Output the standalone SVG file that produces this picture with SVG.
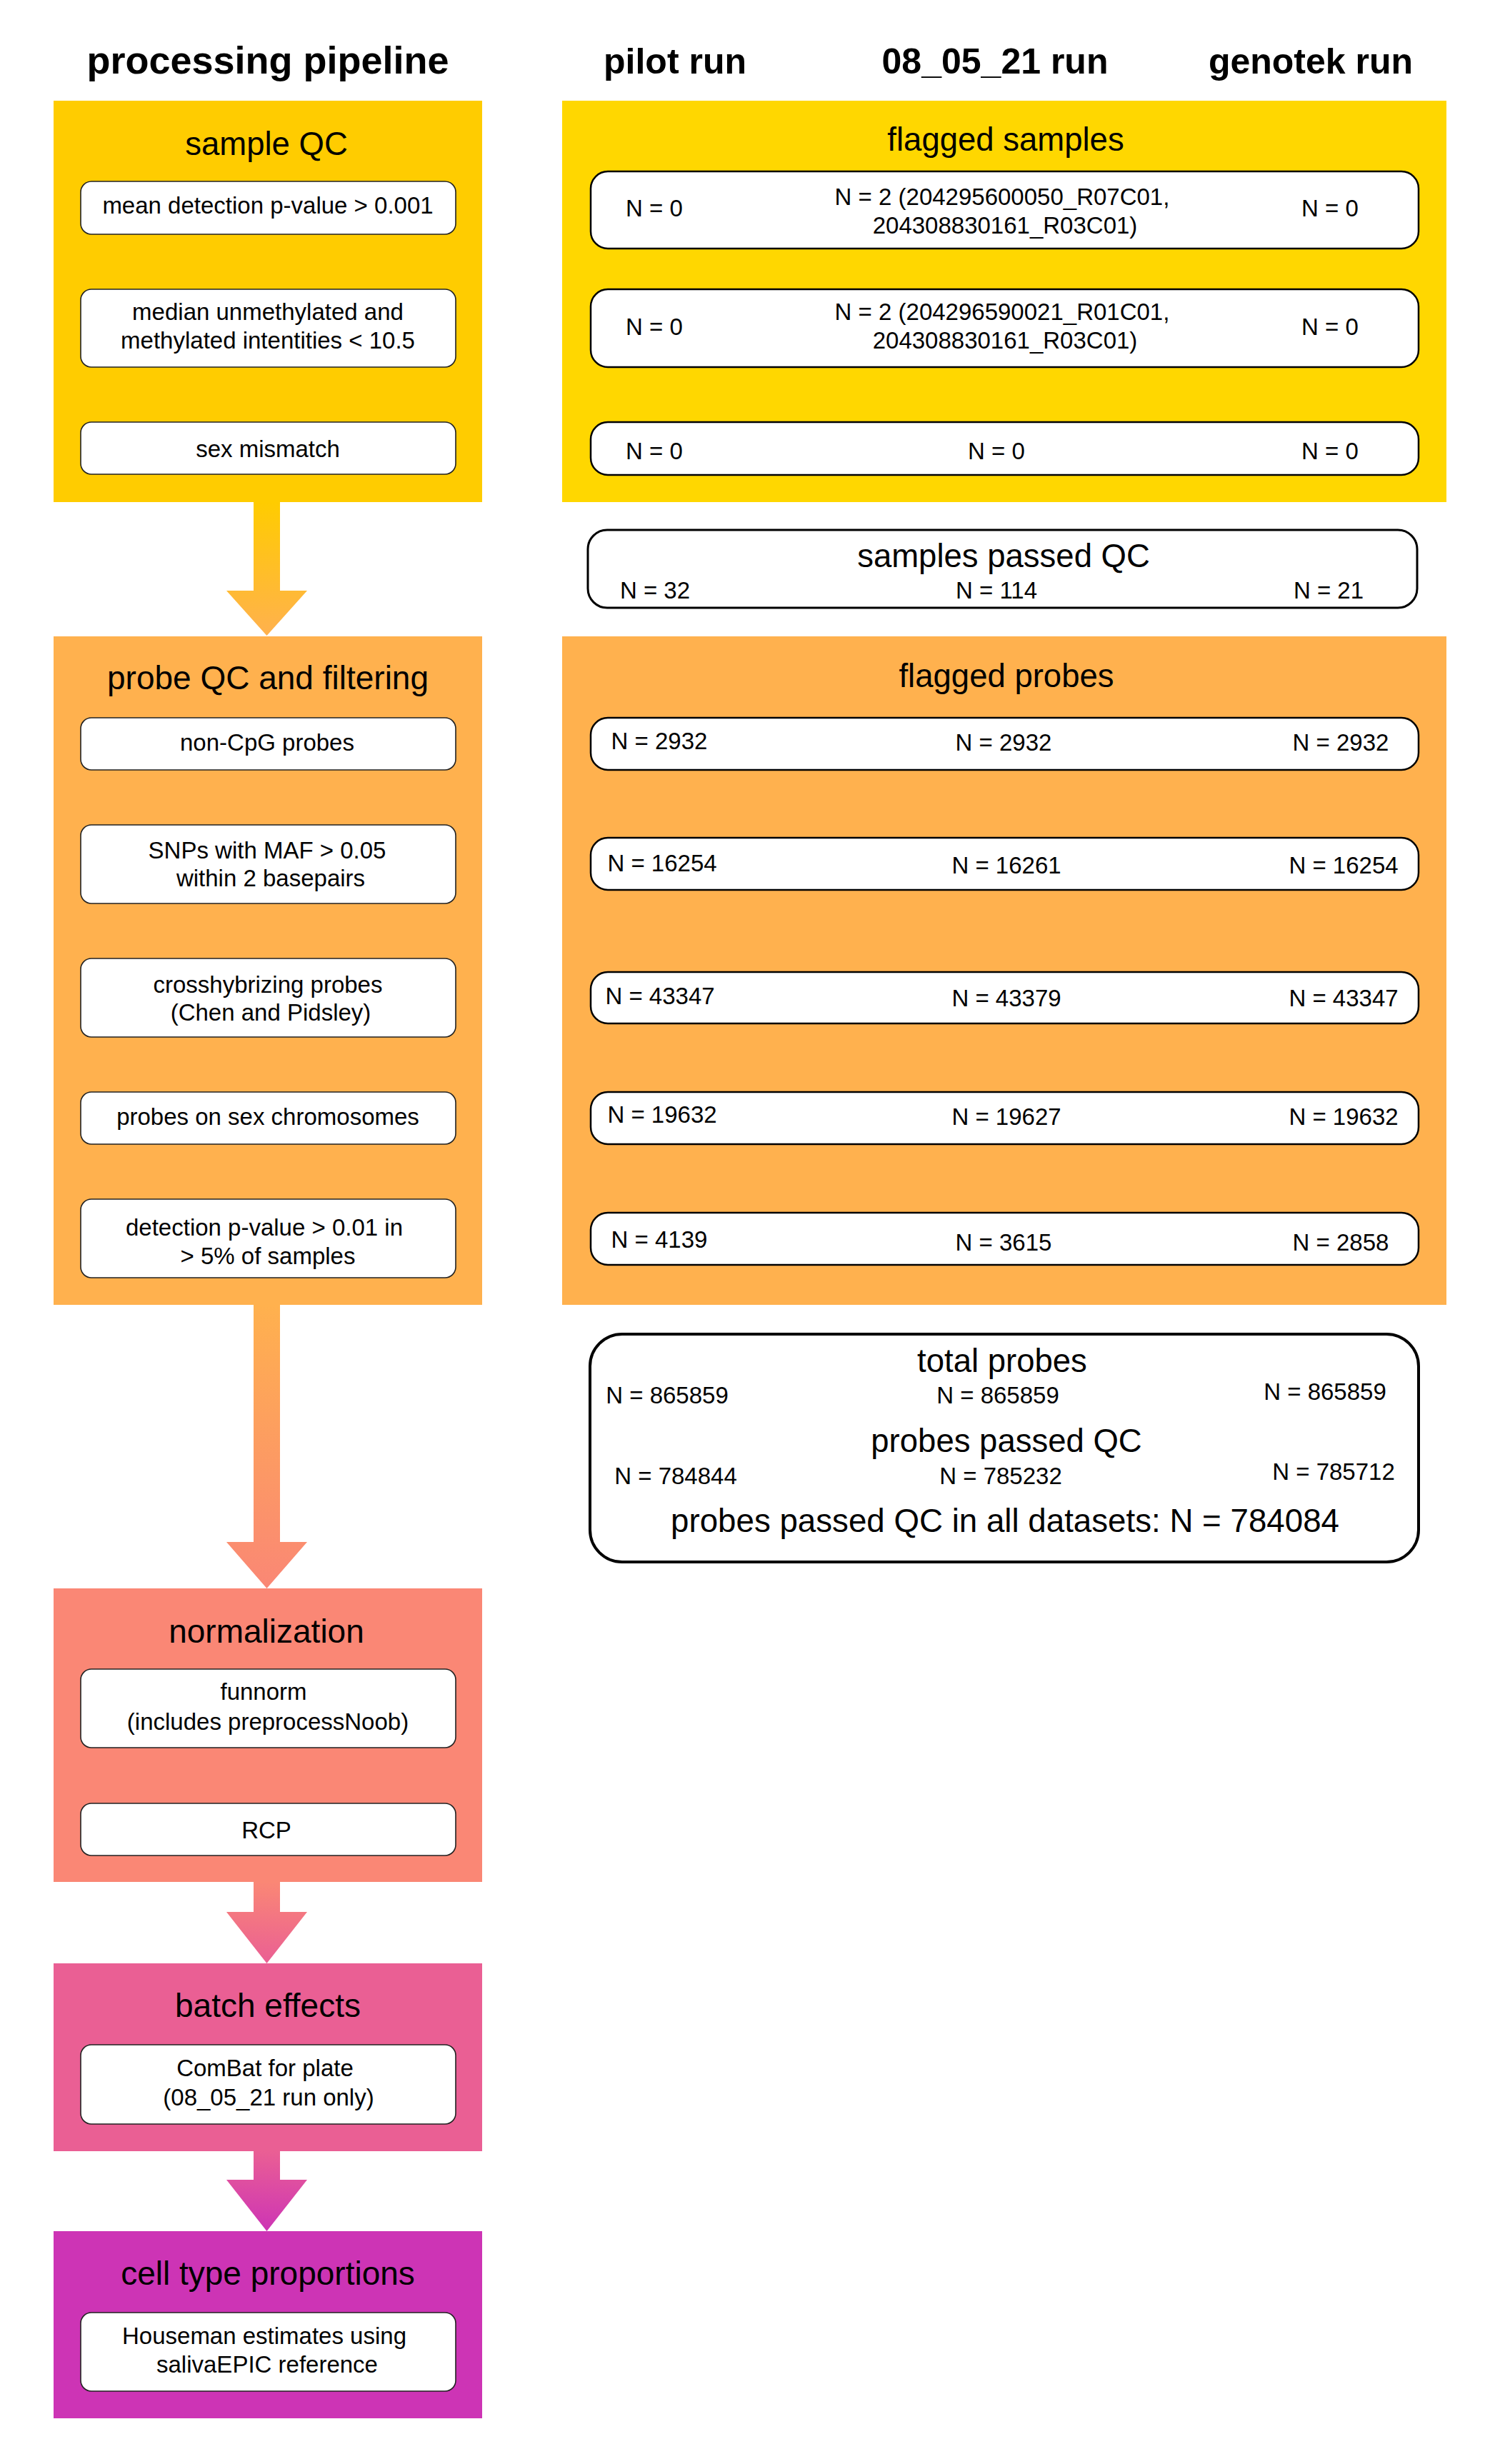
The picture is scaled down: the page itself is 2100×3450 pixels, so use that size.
<svg xmlns="http://www.w3.org/2000/svg" width="2100" height="3450" viewBox="0 0 2100 3450">
<style>
text{font-family:"Liberation Sans",Arial,sans-serif;fill:#000}
.hdr{font-size:50px;font-weight:bold;text-anchor:middle}
.ttl{font-size:45.5px;text-anchor:middle}
.t{font-size:33px;text-anchor:middle}
.ib{fill:#fff;stroke:#222;stroke-width:1.6}
.rb{fill:#fff;stroke:#000;stroke-width:2.5}
</style>
<defs>
<linearGradient id="g1" x1="0" y1="0" x2="0" y2="1"><stop offset="0" stop-color="#FFCC00"/><stop offset="1" stop-color="#FFB14E"/></linearGradient>
<linearGradient id="g2" x1="0" y1="0" x2="0" y2="1"><stop offset="0" stop-color="#FFB14E"/><stop offset="1" stop-color="#FA8775"/></linearGradient>
<linearGradient id="g3" x1="0" y1="0" x2="0" y2="1"><stop offset="0" stop-color="#FA8775"/><stop offset="1" stop-color="#EA5F94"/></linearGradient>
<linearGradient id="g4" x1="0" y1="0" x2="0" y2="1"><stop offset="0" stop-color="#EA5F94"/><stop offset="1" stop-color="#CD34B5"/></linearGradient>
</defs>
<rect width="2100" height="3450" fill="#fff"/>

<g id="headers">
<text x="375" y="103" class="hdr" style="font-size:54px">processing pipeline</text>
<text x="945" y="103" class="hdr">pilot run</text>
<text x="1393" y="103" class="hdr">08_05_21 run</text>
<text x="1835" y="103" class="hdr">genotek run</text>
</g>

<g id="connectors">
<polygon fill="url(#g1)" points="355,703 392,703 392,827 430,827 373.5,890 317,827 355,827"/>
<polygon fill="url(#g2)" points="355,1827 392,1827 392,2159 430,2159 373.5,2224 317,2159 355,2159"/>
<polygon fill="url(#g3)" points="355,2635 392,2635 392,2677 430,2677 373.5,2749 317,2677 355,2677"/>
<polygon fill="url(#g4)" points="355,3012 392,3012 392,3052 430,3052 373.5,3124 317,3052 355,3052"/>
</g>

<g id="sample-qc">
<rect x="75" y="141" width="600" height="562" fill="#FFCC00"/>
<text x="373" y="217" class="ttl">sample QC</text>
<rect x="113" y="254" width="525" height="74" rx="15" class="ib"/>
<text x="375" y="299" class="t">mean detection p-value &gt; 0.001</text>
<rect x="113" y="405" width="525" height="109" rx="15" class="ib"/>
<text x="375" y="448" class="t">median unmethylated and</text>
<text x="375" y="488" class="t">methylated intentities &lt; 10.5</text>
<rect x="113" y="591" width="525" height="73" rx="15" class="ib"/>
<text x="375" y="640" class="t">sex mismatch</text>
</g>

<g id="flagged-samples">
<rect x="787" y="141" width="1238" height="562" fill="#FFD700"/>
<text x="1408" y="211" class="ttl">flagged samples</text>
<rect x="827" y="240" width="1159" height="108" rx="24" class="rb"/>
<text x="916" y="303" class="t">N = 0</text>
<text x="1403" y="287" class="t">N = 2 (204295600050_R07C01,</text>
<text x="1407" y="327" class="t">204308830161_R03C01)</text>
<text x="1862" y="303" class="t">N = 0</text>
<rect x="827" y="405" width="1159" height="109" rx="24" class="rb"/>
<text x="916" y="469" class="t">N = 0</text>
<text x="1403" y="448" class="t">N = 2 (204296590021_R01C01,</text>
<text x="1407" y="488" class="t">204308830161_R03C01)</text>
<text x="1862" y="469" class="t">N = 0</text>
<rect x="827" y="591" width="1159" height="74" rx="24" class="rb"/>
<text x="916" y="643" class="t">N = 0</text>
<text x="1395" y="643" class="t">N = 0</text>
<text x="1862" y="643" class="t">N = 0</text>
</g>

<g id="samples-passed">
<rect x="823" y="742" width="1161" height="109" rx="27" fill="#fff" stroke="#000" stroke-width="3"/>
<text x="1405" y="794" class="ttl">samples passed QC</text>
<text x="917" y="838" class="t">N = 32</text>
<text x="1395" y="838" class="t">N = 114</text>
<text x="1860" y="838" class="t">N = 21</text>
</g>

<g id="probe-qc">
<rect x="75" y="891" width="600" height="936" fill="#FFB14E"/>
<text x="375" y="965" class="ttl" style="font-size:46px">probe QC and filtering</text>
<rect x="113" y="1005" width="525" height="73" rx="15" class="ib"/>
<text x="374" y="1051" class="t">non-CpG probes</text>
<rect x="113" y="1155" width="525" height="110" rx="15" class="ib"/>
<text x="374" y="1202" class="t">SNPs with MAF &gt; 0.05</text>
<text x="379" y="1241" class="t">within 2 basepairs</text>
<rect x="113" y="1342" width="525" height="110" rx="15" class="ib"/>
<text x="375" y="1390" class="t">crosshybrizing probes</text>
<text x="379" y="1429" class="t">(Chen and Pidsley)</text>
<rect x="113" y="1529" width="525" height="73" rx="15" class="ib"/>
<text x="375" y="1575" class="t">probes on sex chromosomes</text>
<rect x="113" y="1679" width="525" height="110" rx="15" class="ib"/>
<text x="370" y="1730" class="t">detection p-value &gt; 0.01 in</text>
<text x="375" y="1770" class="t">&gt; 5% of samples</text>
</g>

<g id="flagged-probes">
<rect x="787" y="891" width="1238" height="936" fill="#FFB14E"/>
<text x="1409" y="962" class="ttl">flagged probes</text>
<rect x="827" y="1005" width="1159" height="73" rx="24" class="rb"/>
<text x="923" y="1049" class="t">N = 2932</text>
<text x="1405" y="1051" class="t">N = 2932</text>
<text x="1877" y="1051" class="t">N = 2932</text>
<rect x="827" y="1173" width="1159" height="73" rx="24" class="rb"/>
<text x="927" y="1220" class="t">N = 16254</text>
<text x="1409" y="1223" class="t">N = 16261</text>
<text x="1881" y="1223" class="t">N = 16254</text>
<rect x="827" y="1361" width="1159" height="72" rx="24" class="rb"/>
<text x="924" y="1406" class="t">N = 43347</text>
<text x="1409" y="1409" class="t">N = 43379</text>
<text x="1881" y="1409" class="t">N = 43347</text>
<rect x="827" y="1529" width="1159" height="73" rx="24" class="rb"/>
<text x="927" y="1572" class="t">N = 19632</text>
<text x="1409" y="1575" class="t">N = 19627</text>
<text x="1881" y="1575" class="t">N = 19632</text>
<rect x="827" y="1698" width="1159" height="73" rx="24" class="rb"/>
<text x="923" y="1747" class="t">N = 4139</text>
<text x="1405" y="1751" class="t">N = 3615</text>
<text x="1877" y="1751" class="t">N = 2858</text>
</g>

<g id="total-probes">
<rect x="826" y="1868" width="1160" height="319" rx="45" fill="#fff" stroke="#000" stroke-width="4"/>
<text x="1403" y="1921" class="ttl">total probes</text>
<text x="934" y="1965" class="t">N = 865859</text>
<text x="1397" y="1965" class="t">N = 865859</text>
<text x="1855" y="1960" class="t">N = 865859</text>
<text x="1409" y="2033" class="ttl">probes passed QC</text>
<text x="946" y="2078" class="t">N = 784844</text>
<text x="1401" y="2078" class="t">N = 785232</text>
<text x="1867" y="2072" class="t">N = 785712</text>
<text x="1407" y="2145" class="ttl" style="font-size:45.7px">probes passed QC in all datasets: N = 784084</text>
</g>

<g id="normalization">
<rect x="75" y="2224" width="600" height="411" fill="#FA8775"/>
<text x="373" y="2300" class="ttl" style="font-size:46px">normalization</text>
<rect x="113" y="2337" width="525" height="110" rx="15" class="ib"/>
<text x="369" y="2380" class="t">funnorm</text>
<text x="375" y="2422" class="t">(includes preprocessNoob)</text>
<rect x="113" y="2525" width="525" height="73" rx="15" class="ib"/>
<text x="373" y="2574" class="t">RCP</text>
</g>

<g id="batch-effects">
<rect x="75" y="2749" width="600" height="263" fill="#EA5F94"/>
<text x="375" y="2824" class="ttl" style="font-size:46px">batch effects</text>
<rect x="113" y="2863" width="525" height="111" rx="15" class="ib"/>
<text x="371" y="2907" class="t">ComBat for plate</text>
<text x="376" y="2948" class="t">(08_05_21 run only)</text>
</g>

<g id="cell-type">
<rect x="75" y="3124" width="600" height="262" fill="#CD34B5"/>
<text x="375" y="3199" class="ttl" style="font-size:46px">cell type proportions</text>
<rect x="113" y="3238" width="525" height="110" rx="15" class="ib"/>
<text x="370" y="3282" class="t">Houseman estimates using</text>
<text x="374" y="3322" class="t">salivaEPIC reference</text>
</g>
</svg>
